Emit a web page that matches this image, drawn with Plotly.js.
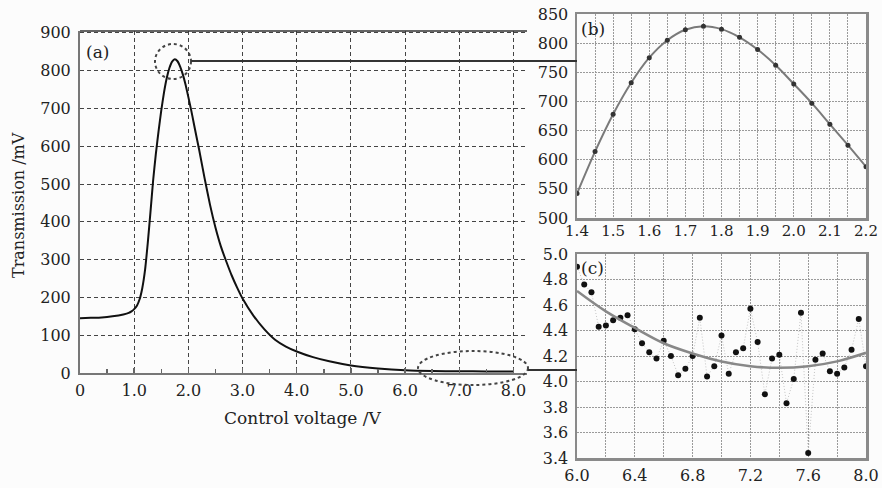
<!DOCTYPE html>
<html>
<head>
<meta charset="utf-8">
<script src="https://cdn.plot.ly/plotly-3.0.1.min.js"></script>
<style>html,body{margin:0;padding:0;background:#fcfcfc;}#chart{width:882px;height:488px;}</style>
</head>
<body>
<div id="chart"></div>
<script>
// Panel (a): transmission vs control voltage
const voltageA = [0, 0.2, 0.4, 0.6, 0.8, 0.9, 0.95, 1.0, 1.05, 1.1, 1.15, 1.2, 1.25, 1.3, 1.35, 1.4, 1.45, 1.5, 1.55, 1.6, 1.65, 1.7, 1.75, 1.8, 1.85, 1.9, 1.95, 2.0, 2.05, 2.1, 2.15, 2.2, 2.3, 2.4, 2.5, 2.6, 2.7, 2.8, 2.9, 3.0, 3.2, 3.4, 3.6, 3.8, 4.0, 4.3, 4.6, 5.0, 5.5, 6.0, 6.5, 7.0, 7.5, 8.0];
const transA = [145, 146, 147, 150, 155, 159, 163, 169, 178, 195, 225, 272, 343, 425, 510, 580, 640, 695, 742, 780, 807, 824, 830, 825, 810, 789, 762, 730, 697, 661, 625, 590, 515, 445, 385, 335, 295, 258, 226, 197, 152, 116, 88, 70, 57, 42, 31, 20, 12, 7, 5, 4.5, 4.2, 4.1];
const xTickValsA = [0, 1, 2, 3, 4, 5, 6, 7, 8];
const xTickTextA = ["0", "1.0", "2.0", "3.0", "4.0", "5.0", "6.0", "7.0", "8.0"];
const xMinorA = [0.5, 1.5, 2.5, 3.5, 4.5, 5.5, 6.5, 7.5];

// Panel (b): zoom around the peak
const voltageB = [1.40, 1.45, 1.50, 1.55, 1.60, 1.65, 1.70, 1.75, 1.80, 1.85, 1.90, 1.95, 2.00, 2.05, 2.10, 2.15, 2.20];
const transB = [542, 614, 678, 732, 775, 805, 823, 829, 824, 810, 789, 762, 730, 697, 661, 625, 588];
const xTickValsB = [1.4, 1.5, 1.6, 1.7, 1.8, 1.9, 2.0, 2.1, 2.2];

// Panel (c): zoom on the tail
const voltageC = [6.00, 6.05, 6.10, 6.15, 6.20, 6.25, 6.30, 6.35, 6.40, 6.45, 6.50, 6.55, 6.60, 6.65, 6.70, 6.75, 6.80, 6.85, 6.90, 6.95, 7.00, 7.05, 7.10, 7.15, 7.20, 7.25, 7.30, 7.35, 7.40, 7.45, 7.50, 7.55, 7.60, 7.65, 7.70, 7.75, 7.80, 7.85, 7.90, 7.95, 8.00];
const transC = [4.90, 4.76, 4.70, 4.43, 4.44, 4.48, 4.50, 4.52, 4.41, 4.30, 4.23, 4.18, 4.32, 4.20, 4.05, 4.10, 4.20, 4.50, 4.04, 4.12, 4.36, 4.06, 4.23, 4.26, 4.57, 4.31, 3.90, 4.18, 4.21, 3.83, 4.02, 4.54, 3.44, 4.17, 4.22, 4.08, 4.06, 4.11, 4.25, 4.49, 4.12];
const fitXC = [6.0, 6.2, 6.4, 6.6, 6.8, 7.0, 7.2, 7.4, 7.6, 7.8, 8.0];
const fitYC = [4.71, 4.55, 4.42, 4.30, 4.22, 4.157, 4.12, 4.107, 4.12, 4.158, 4.225];
const xTickValsC = [6.0, 6.4, 6.8, 7.2, 7.6, 8.0];
const yTickValsC = [3.4, 3.6, 3.8, 4.0, 4.2, 4.4, 4.6, 4.8, 5.0];

const FONT = "DejaVu Serif, Liberation Serif, serif";
const W = 882, H = 488;
const px = v => v / W;
const py = v => (H - v) / H;

const traces = [
  {x: voltageA, y: transA, xaxis: 'x', yaxis: 'y', mode: 'lines', type: 'scatter',
   line: {color: '#111', width: 2, shape: 'spline', smoothing: 0.5}, hoverinfo: 'skip'},
  {x: voltageB, y: transB, xaxis: 'x2', yaxis: 'y2', mode: 'lines+markers', type: 'scatter',
   line: {color: '#7a7a7a', width: 2, shape: 'spline'}, marker: {color: '#333', size: 5}, hoverinfo: 'skip'},
  {x: voltageC, y: transC, xaxis: 'x3', yaxis: 'y3', mode: 'lines+markers', type: 'scatter',
   line: {color: '#c4c4c4', width: 1, dash: '1px,2px'}, marker: {color: '#111', size: 6}, hoverinfo: 'skip'},
  {x: fitXC, y: fitYC, xaxis: 'x3', yaxis: 'y3', mode: 'lines', type: 'scatter',
   line: {color: '#888', width: 2.5, shape: 'spline'}, hoverinfo: 'skip'}
];

const tickFont = {family: FONT, size: 16, color: '#222'};
const gridSmall = {showgrid: true, gridcolor: '#9a9a9a', gridwidth: 1, griddash: '2px,1px'};

const layout = {
  width: W, height: H,
  margin: {l: 0, r: 0, t: 0, b: 0},
  paper_bgcolor: '#fcfcfc', plot_bgcolor: 'rgba(0,0,0,0)',
  showlegend: false,
  font: {family: FONT, color: '#222'},
  xaxis: {domain: [px(80), px(527)], range: [0, 8.25], anchor: 'y',
    tickmode: 'array', tickvals: xTickValsA, ticktext: xTickTextA,
    ticks: 'inside', ticklen: 5, tickcolor: '#666', tickwidth: 1.5,
    minor: {tickmode: 'array', tickvals: xMinorA, ticks: 'inside', ticklen: 4, tickcolor: '#666', showgrid: false},
    showline: true, linecolor: '#777', linewidth: 2, zeroline: false,
    showgrid: true, gridcolor: '#444', gridwidth: 1, griddash: '4px,3px',
    tickfont: tickFont, ticklabelstandoff: 2},
  yaxis: {domain: [py(373), py(31)], range: [0, 905], anchor: 'x',
    tickmode: 'linear', tick0: 0, dtick: 100, ticks: '',
    showline: true, linecolor: '#777', linewidth: 2, zeroline: false,
    showgrid: true, gridcolor: '#444', gridwidth: 1, griddash: '4px,3px',
    tickfont: tickFont, ticklabelstandoff: 4},
  xaxis2: Object.assign({domain: [px(577), px(866)], range: [1.4, 2.2], anchor: 'y2',
    tickmode: 'array', tickvals: xTickValsB, ticktext: xTickValsB.map(v => v.toFixed(1)), ticks: '',
    minor: {dtick: 0.05, tick0: 1.4, showgrid: true, gridcolor: '#9a9a9a', griddash: '2px,1px', ticks: ''},
    showline: true, mirror: true, linecolor: '#8a8a8a', linewidth: 2.5, zeroline: false,
    tickfont: {family: FONT, size: 15, color: '#222'}, ticklabelstandoff: -3}, gridSmall),
  yaxis2: Object.assign({domain: [py(218), py(14)], range: [500, 850], anchor: 'x2',
    tickmode: 'linear', tick0: 500, dtick: 50, ticks: '',
    showline: true, mirror: true, linecolor: '#8a8a8a', linewidth: 2.5, zeroline: false,
    tickfont: tickFont, ticklabelstandoff: 3}, gridSmall),
  xaxis3: Object.assign({domain: [px(577), px(866)], range: [6.0, 8.0], anchor: 'y3',
    tickmode: 'array', tickvals: xTickValsC, ticktext: xTickValsC.map(v => v.toFixed(1)), ticks: '',
    minor: {dtick: 0.2, tick0: 6.0, showgrid: true, gridcolor: '#9a9a9a', griddash: '2px,1px', ticks: ''},
    showline: true, mirror: true, linecolor: '#8a8a8a', linewidth: 2.5, zeroline: false,
    tickfont: tickFont, ticklabelstandoff: 1}, gridSmall),
  yaxis3: Object.assign({domain: [py(458), py(254)], range: [3.4, 5.0], anchor: 'x3',
    tickmode: 'array', tickvals: yTickValsC, ticktext: yTickValsC.map(v => v.toFixed(1)), ticks: '',
    showline: true, mirror: true, linecolor: '#8a8a8a', linewidth: 2.5, zeroline: false,
    tickfont: tickFont, ticklabelstandoff: 3}, gridSmall),
  shapes: [
    // top border of panel (a)
    {type: 'line', xref: 'paper', yref: 'paper', x0: px(80), x1: px(527), y0: py(31), y1: py(31), line: {color: '#333', width: 1.5}},
    // dotted circle around the peak
    {type: 'circle', xref: 'paper', yref: 'paper', x0: px(155), x1: px(191), y0: py(79), y1: py(44), line: {color: '#444', width: 2, dash: 'dot'}},
    // dotted ellipse around the tail
    {type: 'circle', xref: 'paper', yref: 'paper', x0: px(418), x1: px(528), y0: py(385), y1: py(351), line: {color: '#444', width: 2, dash: 'dot'}},
    // connector to (b)
    {type: 'line', xref: 'paper', yref: 'paper', x0: px(191), x1: px(577), y0: py(61), y1: py(61), line: {color: '#333', width: 2}},
    // connector to (c)
    {type: 'line', xref: 'paper', yref: 'paper', x0: px(528), x1: px(577), y0: py(370), y1: py(370), line: {color: '#333', width: 2}}
  ],
  annotations: [
    {text: 'Control voltage /V', xref: 'paper', yref: 'paper', x: px(303), y: py(418), showarrow: false,
     xanchor: 'center', yanchor: 'middle', font: {family: FONT, size: 17, color: '#222'}},
    {text: 'Transmission /mV', xref: 'paper', yref: 'paper', x: px(18), y: py(205), showarrow: false, textangle: -90,
     xanchor: 'center', yanchor: 'middle', font: {family: FONT, size: 16, color: '#222'}},
    {text: '(a)', xref: 'paper', yref: 'paper', x: px(84), y: py(52), showarrow: false, xanchor: 'left', yanchor: 'middle',
     font: {family: FONT, size: 17, color: '#222'}},
    {text: '(b)', xref: 'paper', yref: 'paper', x: px(579), y: py(29), showarrow: false, xanchor: 'left', yanchor: 'middle',
     font: {family: FONT, size: 17, color: '#222'}},
    {text: '(c)', xref: 'paper', yref: 'paper', x: px(579), y: py(268), showarrow: false, xanchor: 'left', yanchor: 'middle',
     font: {family: FONT, size: 17, color: '#222'}}
  ]
};

Plotly.newPlot('chart', traces, layout, {displayModeBar: false, staticPlot: true});
</script>
</body>
</html>
